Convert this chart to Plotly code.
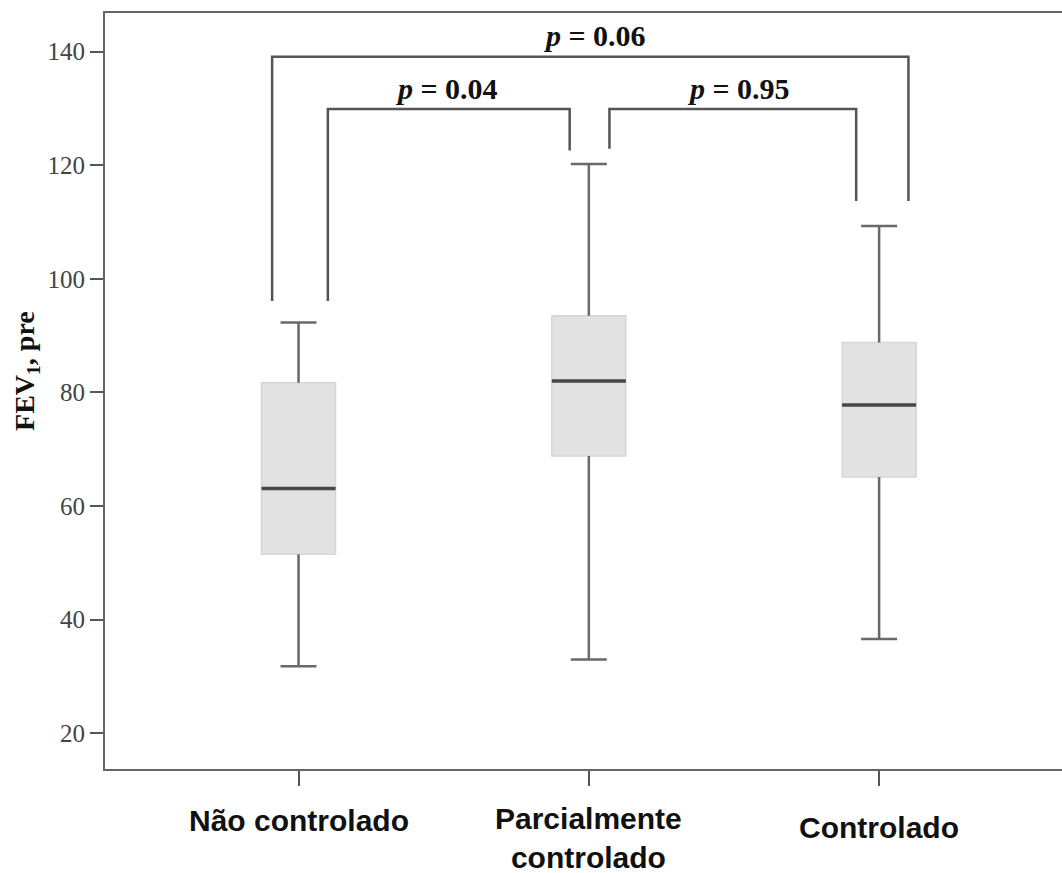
import plotly.graph_objects as go

# ---- data ----
categories = ["Não controlado", "Parcialmente<br>controlado", "Controlado"]
lower_whisker = [31.8, 33.0, 36.6]
q1 = [51.5, 68.8, 65.1]
median = [63.1, 82.0, 77.8]
q3 = [81.7, 93.5, 88.8]
upper_whisker = [92.3, 120.2, 109.3]
y_ticks = [20, 40, 60, 80, 100, 120, 140]

# comparison brackets: (x_left, x_right, y_top, y_left_bottom, y_right_bottom, label, label_x, label_y)
brackets = [
    (-0.091, 2.101, 139.1, 96.1, 113.7, "<i>p</i> = 0.06", 1.018, 142.8),
    (0.101, 0.934, 129.9, 96.1, 122.6, "<i>p</i> = 0.04", 0.508, 133.5),
    (1.071, 1.921, 129.9, 122.9, 113.7, "<i>p</i> = 0.95", 1.514, 133.5),
]

xpos = list(range(len(categories)))
BOX_W = 0.255
CAP_HALF = 0.062

fig = go.Figure()

# boxes (fill only, light outline)
for i in xpos:
    fig.add_trace(go.Box(
        x=[i], q1=[q1[i]], median=[median[i]], q3=[q3[i]],
        lowerfence=[lower_whisker[i]], upperfence=[upper_whisker[i]],
        width=BOX_W, whiskerwidth=0.0,
        fillcolor="#e2e2e2", line=dict(color="#d6d6d6", width=1.5),
        boxpoints=False, showlegend=False, hoverinfo="skip",
    ))

# whiskers, caps and medians
for i in xpos:
    wx = [i, i, None, i, i, None,
          i - CAP_HALF, i + CAP_HALF, None, i - CAP_HALF, i + CAP_HALF]
    wy = [q3[i], upper_whisker[i], None, q1[i], lower_whisker[i], None,
          upper_whisker[i], upper_whisker[i], None, lower_whisker[i], lower_whisker[i]]
    fig.add_trace(go.Scatter(x=wx, y=wy, mode="lines",
                             line=dict(color="#696969", width=2.5),
                             showlegend=False, hoverinfo="skip"))
    fig.add_trace(go.Scatter(x=[i - BOX_W / 2, i + BOX_W / 2], y=[median[i], median[i]],
                             mode="lines", line=dict(color="#474747", width=3.5),
                             showlegend=False, hoverinfo="skip"))

# brackets
for (xl, xr, yt, ylb, yrb, lab, lx, ly) in brackets:
    fig.add_trace(go.Scatter(x=[xl, xl, xr, xr], y=[ylb, yt, yt, yrb], mode="lines",
                             line=dict(color="#555555", width=2.5),
                             showlegend=False, hoverinfo="skip"))
    fig.add_annotation(x=lx, y=ly, xref="x", yref="y", text="<b>" + lab + "</b>",
                       showarrow=False, xanchor="center", yanchor="middle",
                       font=dict(family="Liberation Serif", size=30, color="#111111"))

# category labels
label_y = [-0.068, -0.091, -0.077]
for i, cat in enumerate(categories):
    fig.add_annotation(x=i, y=label_y[i], xref="x", yref="paper", text="<b>" + cat + "</b>",
                       showarrow=False, xanchor="center", yanchor="middle",
                       font=dict(family="Liberation Sans", size=30, color="#111111"))

# y-axis title
fig.add_annotation(x=-0.0815, y=0.5265, xref="paper", yref="paper",
                   text="<b>FEV<sub>1</sub>, pre</b>", textangle=-90,
                   showarrow=False, xanchor="center", yanchor="middle",
                   font=dict(family="Liberation Serif", size=28, color="#111111"))

fig.update_layout(
    width=1062, height=873,
    margin=dict(l=105, r=0, t=13, b=104),
    paper_bgcolor="white", plot_bgcolor="white",
    showlegend=False,
    xaxis=dict(range=[-0.6667, 2.630], tickvals=xpos, showticklabels=False,
               showline=True, linecolor="#666666", linewidth=2, mirror=True,
               ticks="outside", ticklen=15, tickwidth=2, tickcolor="#555555",
               showgrid=False, zeroline=False, fixedrange=True),
    yaxis=dict(range=[13.7, 146.8], tickvals=y_ticks,
               showline=True, linecolor="#666666", linewidth=2, mirror=False,
               ticks="outside", ticklen=13, tickwidth=2, tickcolor="#555555",
               tickfont=dict(family="Liberation Serif", size=25, color="#444444"),
               showgrid=False, zeroline=False, fixedrange=True),
)

fig.write_html("out.html")
